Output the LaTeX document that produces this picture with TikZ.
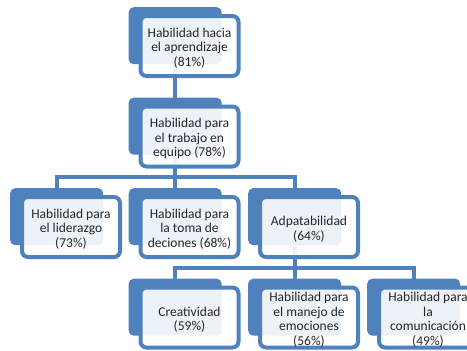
\documentclass[tikz,border=0pt]{standalone}
\usepackage{fontspec}
\setmainfont{Carlito}
\usetikzlibrary{backgrounds}
\definecolor{orgblue}{HTML}{4F81BD}
\definecolor{orgtext}{HTML}{262626}
\tikzset{
  backbox/.style={anchor=north west, fill=orgblue, draw=none, rounded corners=5bp,
    minimum width=93bp, minimum height=57bp, inner sep=0pt},
  frontbox/.style={anchor=north west, draw=orgblue, line width=4bp, fill=white,
    fill opacity=0.9, text opacity=1, rounded corners=6bp,
    minimum width=98bp, minimum height=60bp, inner sep=0pt},
  boxtext/.style={text=orgtext, align=center, font=\fontsize{13.5bp}{14.5bp}\selectfont},
  conn/.style={draw=orgblue, line width=4bp}
}
\newcommand{\orgbox}[4]{%
  \node[backbox] (b#1) at (#2,#3) {};
  \node[frontbox] (f#1) at ({#2+10},{#3+7}) {};
  \node[boxtext] (t#1) at ([yshift=-2bp]f#1.center) {#4};
}
\begin{document}
\begin{tikzpicture}[x=1bp,y=-1bp]
\useasboundingbox (0,0) rectangle (467,350);
\orgbox{1}{128.5}{7}{Habilidad hacia\\el aprendizaje\\(81\%)}
\orgbox{2}{128.5}{97.5}{Habilidad para\\el trabajo en\\equipo (78\%)}
\orgbox{3a}{10}{188}{Habilidad para\\el liderazgo\\(73\%)}
\orgbox{3b}{128.5}{188}{Habilidad para\\la toma de\\deciones (68\%)}
\orgbox{3c}{248}{188}{Adpatabilidad\\(64\%)}
\orgbox{4a}{128.5}{278.5}{Creatividad\\(59\%)}
\orgbox{4b}{248}{278.5}{Habilidad para\\el manejo de\\emociones\\(56\%)}
\orgbox{4c}{367}{278.5}{Habilidad para\\la\\comunicación\\(49\%)}
\coordinate (bus2) at (0,177);
\coordinate (bus3) at (0,267.5);
\begin{scope}[on background layer]
  \draw[conn] (b1.south) -- (b2.north);
  \draw[conn] (b2.south) -- (b2.south |- bus2) -| (b3a.north);
  \draw[conn] (b2.south |- bus2) -- (b3b.north);
  \draw[conn] (b2.south |- bus2) -| (b3c.north);
  \draw[conn] (b3c.south) -- (b3c.south |- bus3) -| (b4a.north);
  \draw[conn] (b3c.south |- bus3) -- (b4b.north);
  \draw[conn] (b3c.south |- bus3) -| (b4c.north);
\end{scope}
\end{tikzpicture}
\end{document}
